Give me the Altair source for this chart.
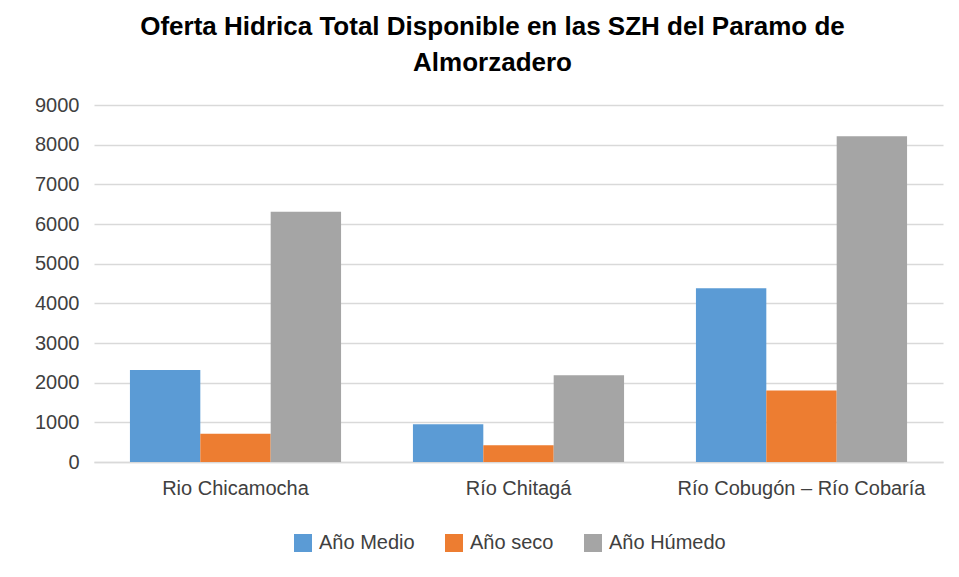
import altair as alt
import pandas as pd

categories = ["Rio Chicamocha", "Río Chitagá", "Río Cobugón – Río Cobaría"]
series = ["Año Medio", "Año seco", "Año Húmedo"]
anio_medio = [2320, 950, 4380]
anio_seco = [710, 420, 1800]
anio_humedo = [6310, 2190, 8210]
colors = ["#5B9BD5", "#ED7D31", "#A5A5A5"]
y_ticks = [0, 1000, 2000, 3000, 4000, 5000, 6000, 7000, 8000, 9000]

rows = []
for s, vals in zip(series, [anio_medio, anio_seco, anio_humedo]):
    for c, v in zip(categories, vals):
        rows.append({"categoria": c, "serie": s, "valor": v})
df = pd.DataFrame(rows)

FONT = "Liberation Sans"

chart = (
    alt.Chart(df)
    .mark_bar()
    .encode(
        x=alt.X(
            "categoria:N",
            sort=categories,
            scale=alt.Scale(paddingInner=0.254, paddingOuter=0.127),
            axis=alt.Axis(
                title=None,
                labelAngle=0,
                labelFontSize=20,
                labelColor="#404040",
                labelPadding=16,
                labelLimit=0,
                ticks=False,
                domainColor="#D9D9D9",
                domainWidth=1.5,
                grid=False,
            ),
        ),
        xOffset=alt.XOffset("serie:N", sort=series, scale=alt.Scale(domain=series, paddingInner=0, paddingOuter=0)),
        y=alt.Y(
            "valor:Q",
            scale=alt.Scale(domain=[0, 9000], nice=False),
            axis=alt.Axis(
                title=None,
                values=y_ticks,
                format="d",
                labelFontSize=20,
                labelColor="#404040",
                labelPadding=15,
                ticks=False,
                domain=False,
                gridColor="#D9D9D9",
                gridWidth=1.5,
            ),
        ),
        color=alt.Color(
            "serie:N",
            sort=series,
            scale=alt.Scale(domain=series, range=colors),
            legend=alt.Legend(
                title=None,
                orient="none",
                direction="horizontal",
                legendX=199,
                legendY=428,
                symbolType="square",
                symbolSize=324,
                symbolStrokeWidth=0,
                labelFontSize=20,
                labelColor="#404040",
                labelOffset=6,
                columnPadding=29,
                gridAlign="none",
                padding=0,
            ),
        ),
    )
    .properties(
        width=849,
        height=357,
        autosize=alt.AutoSizeParams(type="none"),
        padding={"left": 86, "top": 97, "right": 8, "bottom": 100},
        title=alt.TitleParams(
            text=["Oferta Hidrica Total Disponible en las SZH del Paramo de", "Almorzadero"],
            fontSize=26,
            fontWeight="bold",
            font=FONT,
            color="#000000",
            anchor="middle",
            dx=-26,
            offset=19,
            lineHeight=36,
        ),
    )
    .configure(font=FONT)
    .configure_view(stroke=None)
    .configure_axis(labelFont=FONT)
    .configure_legend(labelFont=FONT)
)

chart.save("out.html", embed_options={"renderer": "svg", "actions": False})
